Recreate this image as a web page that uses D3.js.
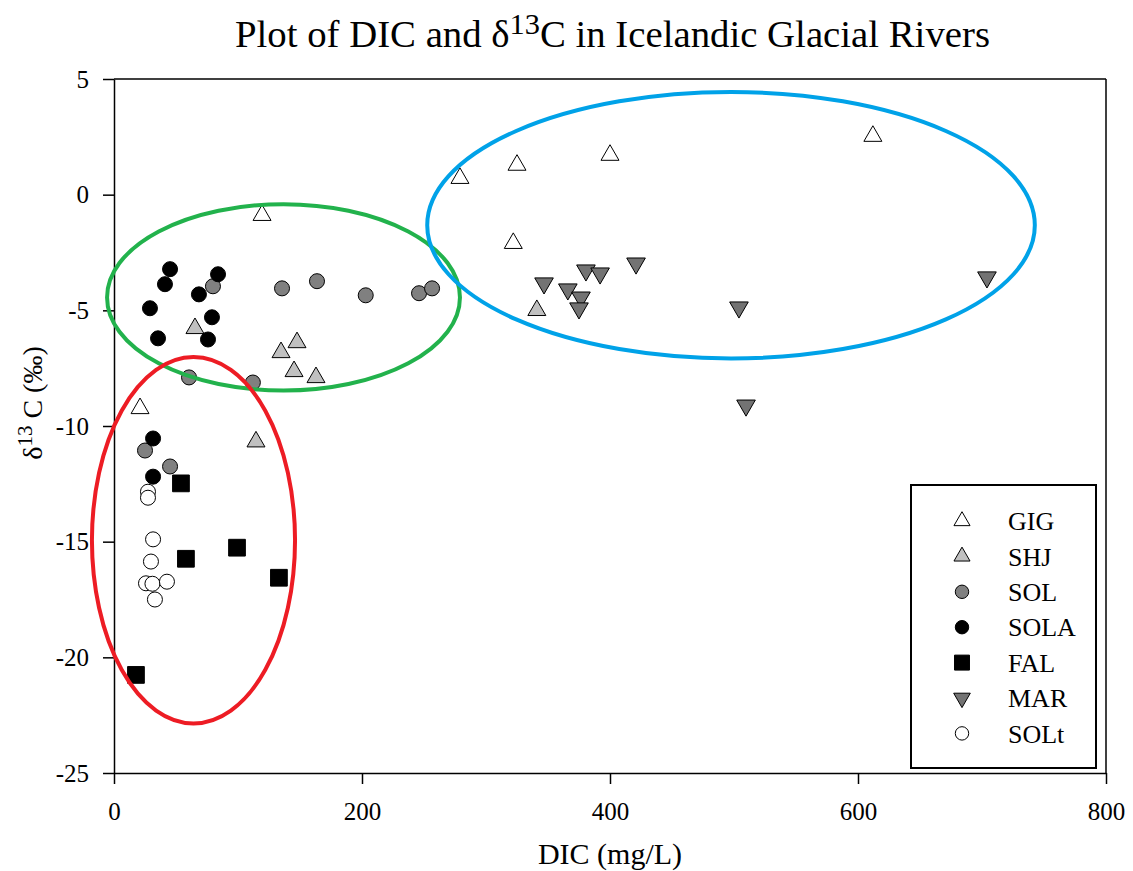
<!DOCTYPE html>
<html><head><meta charset="utf-8">
<script src="https://cdn.jsdelivr.net/npm/d3@7"></script>
<style>
body{margin:0;background:#fff}
svg{display:block}
text{font-family:"Liberation Serif","Times New Roman",serif;fill:#000}
</style>
</head><body>
<svg id="c" width="1133" height="871"></svg>
<script>
// ---- data ----
const xTicks = [0, 200, 400, 600, 800];
const yTicks = [5, 0, -5, -10, -15, -20, -25];
const seriesNames = ["GIG", "SHJ", "SOL", "SOLA", "FAL", "MAR", "SOLt"];

const GIG  = [[119.4,-0.89],[21,-9.24],[279,0.71],[325,1.28],[400,1.71],[612,2.53],[322,-2.1]];
const SHJ  = [[65.3,-5.78],[147.6,-6.39],[134.7,-6.82],[145.2,-7.64],[162.9,-7.9],[114.5,-10.68],[341,-5.0]];
const SOL  = [[79.8,-3.96],[135.5,-4.05],[163.7,-3.74],[203,-4.35],[246,-4.26],[256.5,-4.05],[60.5,-7.9],[112,-8.12],[25,-11.06],[45.2,-11.75]];
const SOLA = [[45.2,-3.22],[41.1,-3.87],[83.9,-3.44],[68.5,-4.31],[29,-4.91],[79,-5.3],[35.5,-6.21],[75.8,-6.26],[31.5,-10.54],[31.5,-12.19]];
const FAL  = [[54,-12.48],[99.2,-15.26],[58,-15.74],[133,-16.56],[17.7,-20.76]];
const MAR  = [[346.8,-3.83],[380.6,-3.27],[392,-3.4],[421,-2.97],[366,-4.09],[376.6,-4.44],[375,-4.91],[504,-4.87],[704,-3.57],[509.7,-9.11]];
const SOLt = [[27.4,-12.84],[27.4,-13.1],[31.5,-14.9],[29.8,-15.86],[25.8,-16.8],[31,-16.82],[42.7,-16.73],[33,-17.5]];

// annotation ellipses (data units): centre x, centre y, radius x, radius y
const ellipseNames = ["green", "red", "blue"];
const ellipseCx = [136.7, 64.1, 497.6];
const ellipseCy = [-4.44, -14.94, -1.32];
const ellipseRx = [142.3, 81.9, 245];
const ellipseRy = [4.03, 7.92, 5.76];

// ---- styles ----
const seriesData = {GIG, SHJ, SOL, SOLA, FAL, MAR, SOLt};
const style = {
  GIG:  {sym: d3.symbolTriangle, size: 140, fill: "#ffffff", rot: 0},
  SHJ:  {sym: d3.symbolTriangle, size: 140, fill: "#c0c0c0", rot: 0},
  SOL:  {sym: d3.symbolCircle,   size: 177, fill: "#808080", rot: 0},
  SOLA: {sym: d3.symbolCircle,   size: 177, fill: "#000000", rot: 0},
  FAL:  {sym: d3.symbolSquare,   size: 280, fill: "#000000", rot: 0},
  MAR:  {sym: d3.symbolTriangle, size: 150, fill: "#737373", rot: 180},
  SOLt: {sym: d3.symbolCircle,   size: 177, fill: "#ffffff", rot: 0}
};
const ellipseColors = {green: "#22b24c", red: "#ed1c24", blue: "#00a2e8"};

const svg = d3.select("#c");
const x = d3.scaleLinear().domain([0, 800]).range([114, 1106]);
const y = d3.scaleLinear().domain([-25, 5]).range([773, 79]);

// frame (top & right)
svg.append("line").attr("x1", x(0)).attr("x2", x(800)).attr("y1", y(5)).attr("y2", y(5))
  .attr("stroke", "#000").attr("stroke-width", 1.5);
svg.append("line").attr("x1", x(800)).attr("x2", x(800)).attr("y1", y(5)).attr("y2", y(-25))
  .attr("stroke", "#000").attr("stroke-width", 1.5);

// axes
const fmt = d => String(d);
const gx = svg.append("g").attr("transform", `translate(0,${y(-25)})`)
  .call(d3.axisBottom(x).tickValues(xTicks).tickSize(11).tickSizeOuter(0).tickPadding(18).tickFormat(fmt));
const gy = svg.append("g").attr("transform", `translate(${x(0)},0)`)
  .call(d3.axisLeft(y).tickValues(yTicks).tickSize(11).tickSizeOuter(0).tickPadding(14).tickFormat(fmt));
[gx, gy].forEach(g => {
  g.selectAll("path,line").attr("stroke", "#000").attr("stroke-width", 1.5);
  g.selectAll("text").style("font-size", "25px").style("font-family", '"Liberation Serif","Times New Roman",serif').attr("fill", "#000");
});

// points
seriesNames.forEach(name => {
  const st = style[name];
  const gen = d3.symbol().type(st.sym).size(st.size);
  svg.append("g").selectAll("path").data(seriesData[name]).join("path")
    .attr("d", gen)
    .attr("transform", d => `translate(${x(d[0])},${y(d[1])}) rotate(${st.rot})`)
    .attr("fill", st.fill).attr("stroke", "#000").attr("stroke-width", 1);
});

// ellipses
ellipseNames.forEach((n, i) => {
  svg.append("ellipse")
    .attr("cx", x(ellipseCx[i])).attr("cy", y(ellipseCy[i]))
    .attr("rx", x(ellipseRx[i]) - x(0)).attr("ry", y(0) - y(ellipseRy[i]))
    .attr("fill", "none").attr("stroke", ellipseColors[n]).attr("stroke-width", 4);
});

// legend
const lg = svg.append("g");
lg.append("rect").attr("x", 911).attr("y", 485).attr("width", 185).attr("height", 283)
  .attr("fill", "#fff").attr("stroke", "#000").attr("stroke-width", 2);
seriesNames.forEach((name, i) => {
  const st = style[name];
  const cy = 521 + i * 35.4;
  lg.append("path").attr("d", d3.symbol().type(st.sym).size(st.size * 0.8)())
    .attr("transform", `translate(962,${cy}) rotate(${st.rot})`)
    .attr("fill", st.fill).attr("stroke", "#000").attr("stroke-width", 1);
  lg.append("text").attr("x", 1008).attr("y", cy).attr("dy", "0.35em")
    .style("font-size", "26px").text(name);
});

// title
const t = svg.append("text").attr("x", 612.5).attr("y", 47).attr("text-anchor", "middle")
  .style("font-size", "37px").attr("textLength", 755).attr("lengthAdjust", "spacingAndGlyphs");
t.append("tspan").text("Plot of DIC and δ");
t.append("tspan").attr("dy", "-13").style("font-size", "29px").text("13");
t.append("tspan").attr("dy", "13").text("C in Icelandic Glacial Rivers");

// x label
svg.append("text").attr("x", 610).attr("y", 864).attr("text-anchor", "middle")
  .style("font-size", "30px").text("DIC (mg/L)");

// y label
const yl = svg.append("text").attr("transform", "translate(42,403) rotate(-90)")
  .attr("text-anchor", "middle").style("font-size", "28px");
yl.append("tspan").text("δ");
yl.append("tspan").attr("dy", "-10").style("font-size", "21px").text("13");
yl.append("tspan").attr("dy", "10").text(" C (‰)");
</script>
</body></html>
